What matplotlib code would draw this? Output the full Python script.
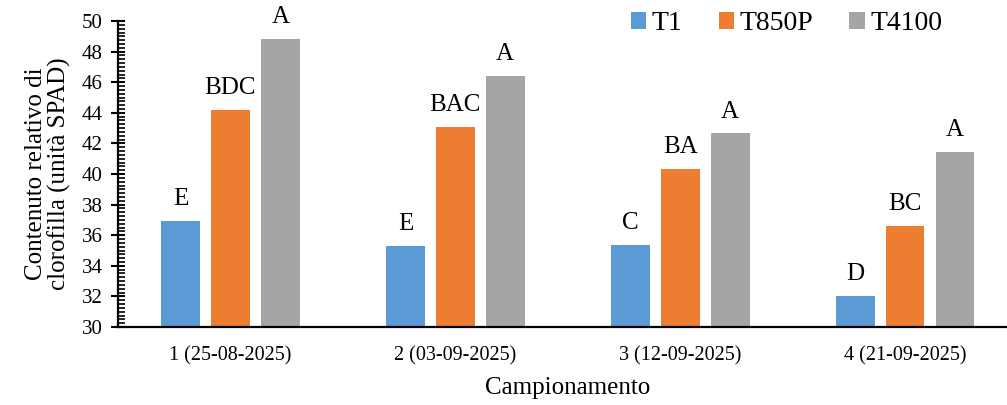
import matplotlib
matplotlib.use("Agg")
import matplotlib.pyplot as plt
from matplotlib.ticker import MultipleLocator
import numpy as np

plt.rcParams['font.family'] = ['Liberation Serif', 'DejaVu Serif']

# campionamenti e trattamenti
dates = ['1 (25-08-2025)', '2 (03-09-2025)', '3 (12-09-2025)', '4 (21-09-2025)']
treatments = ['T1', 'T850P', 'T4100']
t1 = [36.9, 35.3, 35.35, 32.05]
t850p = [44.2, 43.1, 40.35, 36.6]
t4100 = [48.8, 46.4, 42.65, 41.45]
letters_t1 = ['E', 'E', 'C', 'D']
letters_t850p = ['BDC', 'BAC', 'BA', 'BC']
letters_t4100 = ['A', 'A', 'A', 'A']
colors = ['#5B9BD5', '#ED7D31', '#A5A5A5']

fig = plt.figure(figsize=(10.07, 4.05), dpi=100)
ax = fig.add_axes([0.1172, 0.1926, 0.8932, 0.7554])

x = np.arange(len(dates))
step = 0.222
width = 0.173
series = [t1, t850p, t4100]
letters = [letters_t1, letters_t850p, letters_t4100]
for i, (vals, lab, col) in enumerate(zip(series, letters, colors)):
    pos = x + (i - 1) * step
    ax.bar(pos, np.array(vals) - 30, width, bottom=30, color=col,
           label=treatments[i], zorder=2)
    for px, v, l in zip(pos, vals, lab):
        ax.annotate(l, (px, v), xytext=(0, 11.5), textcoords='offset points',
                    ha='center', va='baseline', fontsize=18)

ax.set_ylim(30, 50)
ax.set_xlim(-0.5, 3.5)
ax.yaxis.set_major_locator(MultipleLocator(2))
ax.yaxis.set_minor_locator(MultipleLocator(0.25))
ax.tick_params(axis='y', which='major', direction='inout', length=10,
               width=1.5, labelsize=15, pad=6)
ax.tick_params(axis='y', which='minor', direction='in', length=5, width=1.2)
ax.set_xticks(x)
ax.set_xticklabels(dates)
ax.tick_params(axis='x', length=0, labelsize=14.5, pad=14)

for s in ['top', 'right']:
    ax.spines[s].set_visible(False)
for s in ['left', 'bottom']:
    ax.spines[s].set_linewidth(1.6)

ax.set_ylabel('Contenuto relativo di\nclorofilla (unità SPAD)', fontsize=18,
              linespacing=1.0, labelpad=8)
ax.set_xlabel('Campionamento', fontsize=18, labelpad=8)

fig.legend(loc='center left', bbox_to_anchor=(631 / 1007, 1 - 24 / 405),
           ncol=3, frameon=False, fontsize=20, handlelength=0.55,
           handleheight=0.55, handletextpad=0.2, columnspacing=1.3,
           borderpad=0, borderaxespad=0)

fig.savefig('out.png', dpi=100)
